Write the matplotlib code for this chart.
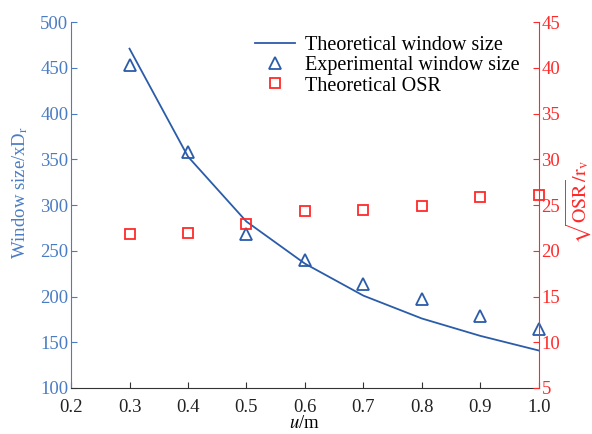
import matplotlib.pyplot as plt
from matplotlib.ticker import MultipleLocator

plt.rcParams['font.family'] = ['Liberation Serif', 'DejaVu Serif']
plt.rcParams['mathtext.fontset'] = 'stix'

u = [0.3, 0.4, 0.5, 0.6, 0.7, 0.8, 0.9, 1.0]
theory_window = [471, 353, 282, 236, 201, 176, 157, 141]
exp_window = [453, 358, 268, 240, 214, 197, 179, 165]
theory_osr = [21.8, 22.0, 22.9, 24.3, 24.5, 24.9, 25.9, 26.1]

blue = '#2a5caa'
axblue = '#4a7cc4'
red = '#ff2a2a'
fs = 13.5

fig = plt.figure(figsize=(5.92, 4.34), dpi=100)
ax = fig.add_axes([0.12, 0.106, 0.79, 0.843])
ax2 = ax.twinx()

l1, = ax.plot(u, theory_window, color=blue, lw=1.3, label='Theoretical window size')
l2, = ax.plot(u, exp_window, ls='none', marker='^', ms=9, mfc='none', mec=blue, mew=1.3,
              label='Experimental window size', clip_on=False)
l3, = ax2.plot(u, theory_osr, ls='none', marker='s', ms=7, mfc='none', mec=red, mew=1.3,
               label='Theoretical OSR', clip_on=False)

ax.set_xlim(0.2, 1.0)
ax.set_ylim(100, 500)
ax2.set_ylim(5, 45)
ax.xaxis.set_major_locator(MultipleLocator(0.1))
ax.yaxis.set_major_locator(MultipleLocator(50))
ax2.yaxis.set_major_locator(MultipleLocator(5))
ax.set_xticklabels([f'{v:.1f}' for v in ax.get_xticks()])

for a in (ax, ax2):
    a.spines['top'].set_visible(False)
ax.spines['right'].set_visible(False)
ax.spines['left'].set_color(axblue)
ax.spines['bottom'].set_color('#333333')
ax2.spines['left'].set_visible(False)
ax2.spines['bottom'].set_visible(False)
ax2.spines['right'].set_color(red)

ax.tick_params(axis='x', direction='in', length=4, colors='#333333', labelcolor='#222222',
               labelsize=fs, pad=8)
ax.tick_params(axis='y', direction='in', length=4, colors=axblue, labelcolor=axblue,
               labelsize=fs, pad=2)
ax2.tick_params(axis='y', direction='in', length=4, colors=red, labelcolor=red,
                labelsize=fs, pad=2)

ax.set_xlabel(r'$u$/m', fontsize=fs, labelpad=-1)
ax.set_ylabel(r'Window size/xD$_{\mathrm{r}}$', fontsize=fs, color=axblue)
ax.yaxis.set_label_coords(-0.088, 0.535)
ax2.set_ylabel(r'$\sqrt{\mathrm{OSR}}/\mathrm{r}_{\mathrm{v}}$', fontsize=14.5, color=red,
               rotation=90)
ax2.yaxis.set_label_coords(1.052, 0.51)

ax.legend(handles=[l1, l2, l3], loc='upper right', frameon=False, fontsize=14.5,
          handlelength=2.0, handletextpad=0.5, labelspacing=0.05, borderaxespad=0.3,
          bbox_to_anchor=(0.99, 1.0))

fig.savefig('out.png', dpi=100)
